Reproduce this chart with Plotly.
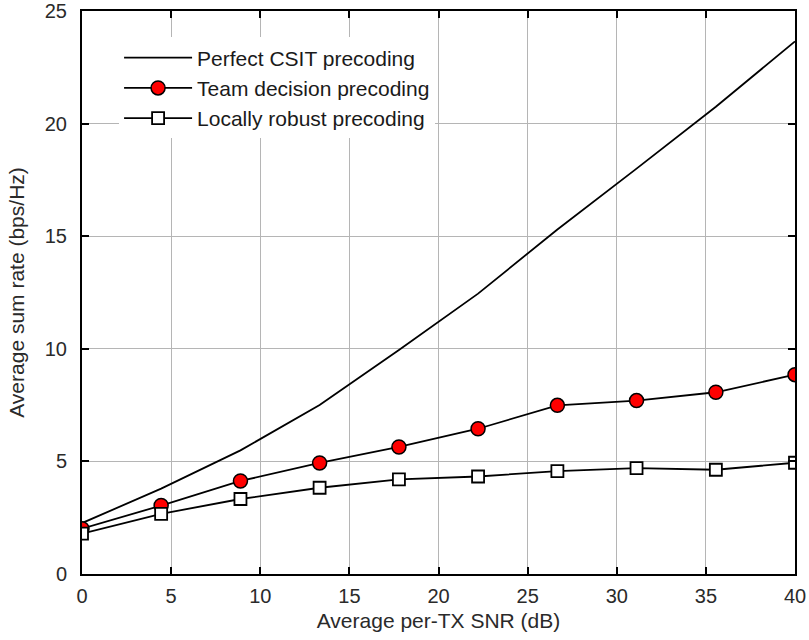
import plotly.graph_objects as go

# Average per-TX SNR (dB) sample points
snr_db = [0, 4.44, 8.89, 13.33, 17.78, 22.22, 26.67, 31.11, 35.56, 40]

# Average sum rate (bps/Hz) for each precoding scheme
perfect_csit = [2.26, 3.79, 5.49, 7.50, 9.95, 12.45, 15.30, 18.00, 20.75, 23.65]
team_decision = [2.01, 3.04, 4.13, 4.93, 5.64, 6.45, 7.49, 7.70, 8.07, 8.85]
locally_robust = [1.79, 2.67, 3.33, 3.83, 4.20, 4.33, 4.57, 4.70, 4.63, 4.94]

x_ticks = [0, 5, 10, 15, 20, 25, 30, 35, 40]
y_ticks = [0, 5, 10, 15, 20, 25]

FONT = "Liberation Sans, Arial, sans-serif"

fig = go.Figure()
fig.add_trace(go.Scatter(
    x=snr_db, y=perfect_csit, mode="lines",
    name="Perfect CSIT precoding", legendgroup="a",
    line=dict(color="black", width=1.8),
))
fig.add_trace(go.Scatter(
    x=snr_db, y=team_decision, mode="lines+markers",
    name="Team decision precoding", legendgroup="b",
    line=dict(color="black", width=1.8),
    marker=dict(symbol="circle", size=14, color="#ff0000",
                line=dict(color="black", width=1.5)),
))
fig.add_trace(go.Scatter(
    x=snr_db, y=locally_robust, mode="lines+markers",
    name="Locally robust precoding", legendgroup="c",
    line=dict(color="black", width=1.8),
    marker=dict(symbol="square", size=12, color="white",
                line=dict(color="black", width=1.8)),
))

axis_common = dict(
    showline=True, linecolor="black", linewidth=2, mirror="ticks",
    ticks="inside", ticklen=7, tickwidth=2, tickcolor="black",
    showgrid=True, gridcolor="#b5b5b5", gridwidth=1,
    zeroline=False, automargin=False,
    tickfont=dict(family=FONT, size=20, color="#2a2a2a"),
)

fig.update_xaxes(
    range=[0, 40], tickvals=x_ticks, ticklabelstandoff=3,
    title=dict(text="Average per-TX SNR (dB)", standoff=7,
               font=dict(family=FONT, size=21, color="#2a2a2a")),
    **axis_common,
)
fig.update_yaxes(
    range=[0, 25], tickvals=y_ticks, ticklabelstandoff=9,
    title=dict(text="Average sum rate (bps/Hz)", standoff=14,
               font=dict(family=FONT, size=21, color="#2a2a2a")),
    **axis_common,
)

fig.update_layout(
    width=809, height=640,
    margin=dict(l=82, r=14, t=11, b=66),
    paper_bgcolor="white", plot_bgcolor="white",
    showlegend=True,
    legend=dict(
        x=0.052, y=0.953, xanchor="left", yanchor="top",
        bgcolor="white", borderwidth=0,
        font=dict(family=FONT, size=21, color="#1a1a1a"),
        itemwidth=68, tracegroupgap=0, traceorder="grouped",
    ),
)

fig.write_html("out.html")
